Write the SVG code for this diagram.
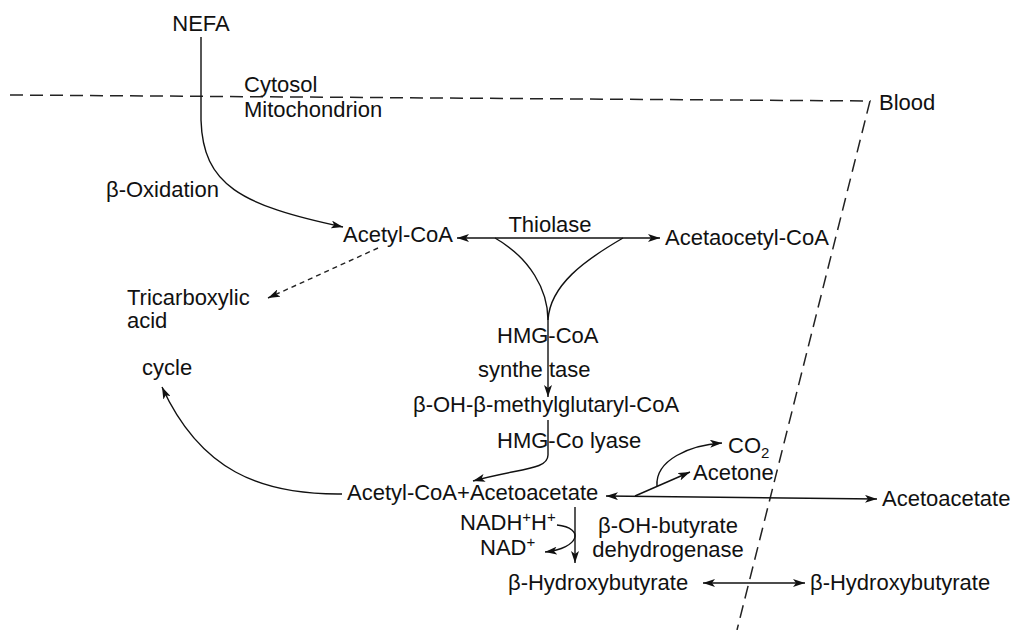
<svg xmlns="http://www.w3.org/2000/svg" width="1013" height="630" viewBox="0 0 1013 630">
<style>
text{font-family:"Liberation Sans",Arial,sans-serif;font-size:22px;fill:#111}
.c{fill:none;stroke:#111;stroke-width:1.4}
.d{fill:none;stroke:#222;stroke-width:1.5;stroke-dasharray:13 7}
.s{fill:none;stroke:#222;stroke-width:1.4;stroke-dasharray:5 4}
.m{text-anchor:middle}
</style>
<defs>
<marker id="ah" viewBox="0 0 12 8" refX="12" refY="4" markerWidth="12" markerHeight="8" markerUnits="userSpaceOnUse" orient="auto-start-reverse">
<path d="M0,0 L12,4 L0,8 L3,4 z" fill="#111"/>
</marker>
</defs>
<g id="membranes">
<path class="d" d="M10,95 L870,101 L737,630"/>
</g>
<g id="connectors">
<path class="c" d="M201,37 L201,120 C203,185 240,205 343,227" marker-end="url(#ah)"/>
<path class="c" d="M457,238 L660,238" marker-start="url(#ah)" marker-end="url(#ah)"/>
<path class="c" d="M495,238 C530,258 548,290 548,320"/>
<path class="c" d="M623,238 C585,260 550,285 548,320"/>
<path class="c" d="M548,320 L548,397" marker-end="url(#ah)"/>
<path class="s" d="M378,248 L268,298" marker-end="url(#ah)"/>
<path class="c" d="M548,420 L548,455 C548,470 520,468 473,481" marker-end="url(#ah)"/>
<path class="c" d="M342,494 C260,495 200,470 162,387" marker-end="url(#ah)"/>
<path class="c" d="M606,496 L877,499" marker-start="url(#ah)" marker-end="url(#ah)"/>
<path class="c" d="M635,496 L690,472" marker-end="url(#ah)"/>
<path class="c" d="M657,486 C655,460 690,445 722,443" marker-end="url(#ah)"/>
<path class="c" d="M575,507 L575,563" marker-end="url(#ah)"/>
<path class="c" d="M557,525 C585,528 580,548 545,552" marker-end="url(#ah)"/>
<path class="c" d="M703,583 L805,583" marker-start="url(#ah)" marker-end="url(#ah)"/>
</g>
<g id="nefa"><text class="m" x="201" y="31">NEFA</text></g>
<g id="cytosol"><text x="244" y="92">Cytosol</text></g>
<g id="mitochondrion"><text x="244" y="117">Mitochondrion</text></g>
<g id="blood"><text x="879" y="110">Blood</text></g>
<g id="beta-oxidation"><text x="106" y="197">β-Oxidation</text></g>
<g id="acetyl-coa"><text x="343" y="242">Acetyl-CoA</text></g>
<g id="thiolase"><text class="m" x="550" y="232">Thiolase</text></g>
<g id="acetaocetyl-coa"><text x="665" y="245">Acetaocetyl-CoA</text></g>
<g id="tca"><text x="127" y="305">Tricarboxylic</text><text x="127" y="328">acid</text><text x="142" y="375">cycle</text></g>
<g id="hmg-coa-synthetase"><text x="497" y="343">HMG-CoA</text><text x="478" y="377">synthe tase</text></g>
<g id="hmg"><text x="413" y="412">β-OH-β-methylglutaryl-CoA</text></g>
<g id="lyase"><text x="497" y="448">HMG-Co lyase</text></g>
<g id="acetyl-acetoacetate"><text x="347" y="500">Acetyl-CoA+Acetoacetate</text></g>
<g id="co2"><text x="728" y="453">CO<tspan font-size="15" dy="5">2</tspan></text></g>
<g id="acetone"><text x="693" y="480">Acetone</text></g>
<g id="acetoacetate-blood"><text x="882" y="506">Acetoacetate</text></g>
<g id="dehydrogenase"><text class="m" x="668" y="533">β-OH-butyrate</text><text class="m" x="668" y="557">dehydrogenase</text></g>
<g id="nadh"><text x="460" y="530">NADH<tspan font-size="15" dy="-8">+</tspan><tspan dy="8">H</tspan><tspan font-size="15" dy="-8">+</tspan></text></g>
<g id="nad"><text x="480" y="555">NAD<tspan font-size="15" dy="-8">+</tspan></text></g>
<g id="hydroxybutyrate"><text x="508" y="590">β-Hydroxybutyrate</text></g>
<g id="hydroxybutyrate-blood"><text x="810" y="590">β-Hydroxybutyrate</text></g>
</svg>
